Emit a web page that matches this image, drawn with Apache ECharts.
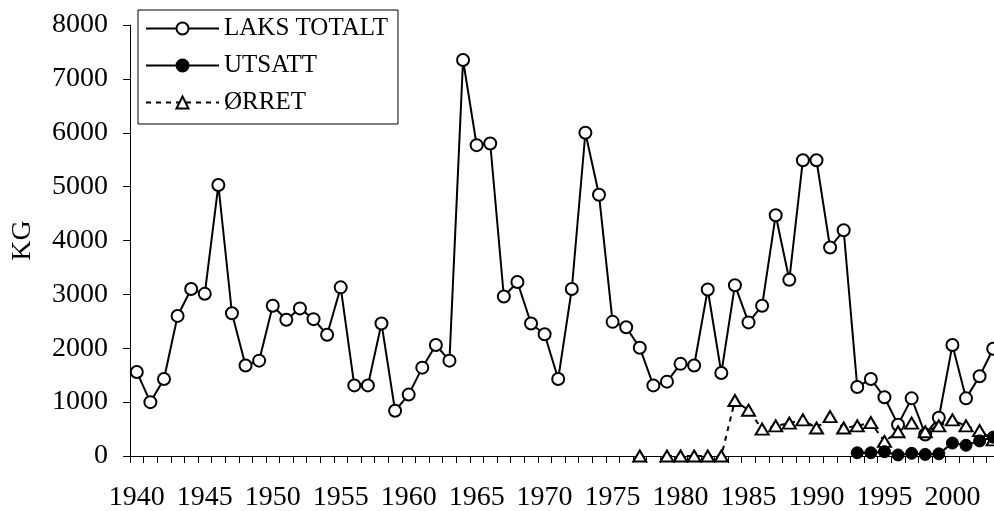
<!DOCTYPE html>
<html>
<head>
<meta charset="utf-8">
<script src="https://cdn.jsdelivr.net/npm/echarts@6/dist/echarts.min.js"></script>
<style>
html,body{margin:0;padding:0;background:#fff;}
#chart{width:994px;height:511px;}
</style>
</head>
<body>
<div id="chart"></div>
<script>
var years = ['1940','1941','1942','1943','1944','1945','1946','1947','1948','1949',
  '1950','1951','1952','1953','1954','1955','1956','1957','1958','1959',
  '1960','1961','1962','1963','1964','1965','1966','1967','1968','1969',
  '1970','1971','1972','1973','1974','1975','1976','1977','1978','1979',
  '1980','1981','1982','1983','1984','1985','1986','1987','1988','1989',
  '1990','1991','1992','1993','1994','1995','1996','1997','1998','1999',
  '2000','2001','2002','2003'];

var laksTotalt = [1560,1000,1430,2600,3100,3010,5030,2650,1680,1770,
  2790,2530,2740,2540,2250,3130,1310,1310,2460,840,
  1140,1640,2060,1770,7350,5770,5800,2960,3230,2460,
  2260,1430,3100,6000,4850,2490,2390,2010,1310,1380,
  1710,1680,3090,1540,3170,2480,2790,4470,3270,5490,
  5490,3870,4190,1280,1430,1090,580,1070,400,710,
  2060,1070,1480,1990];

var utsattStart = '1993';
var utsattValues = [60,60,80,20,50,30,40,240,200,280,350];

var orretStart = '1977';
var orretValues = [0,null,0,0,0,0,0,1030,850,500,560,610,670,520,730,520,560,620,270,450,610,450,560,670,560,470,300];

var yTicks = [0,1000,2000,3000,4000,5000,6000,7000,8000];

function pad(start, vals){
  var out = [];
  var s = years.indexOf(start);
  for (var i = 0; i < years.length; i++) {
    var k = i - s;
    out.push(k >= 0 && k < vals.length ? vals[k] : null);
  }
  return out;
}

var FONT = '"Liberation Serif","Times New Roman",serif';
var chart = echarts.init(document.getElementById('chart'), null, {renderer:'canvas'});
chart.setOption({
  animation: false,
  backgroundColor: '#fff',
  grid: {left: 130, right: -6, top: 25, bottom: 55, containLabel: false, outerBoundsMode: 'none'},
  legend: {
    orient: 'vertical',
    left: 138, top: 10,
    backgroundColor: '#fff',
    borderColor: '#000', borderWidth: 1,
    padding: [6, 10, 9, 7],
    itemWidth: 73, itemHeight: 15, itemGap: 12,
    textStyle: {fontFamily: FONT, fontSize: 25, color: '#000'},
    data: ['LAKS TOTALT', 'UTSATT', 'ØRRET']
  },
  xAxis: {
    type: 'category',
    data: years,
    boundaryGap: true,
    axisLine: {lineStyle: {color: '#000', width: 1}},
    axisTick: {show: true, interval: 0, length: 7, lineStyle: {color: '#000'}},
    axisLabel: {interval: 4, margin: 28, fontFamily: FONT, fontSize: 28, color: '#000'},
    splitLine: {show: false}
  },
  yAxis: {
    type: 'value',
    min: yTicks[0], max: yTicks[yTicks.length-1], interval: 1000,
    name: 'KG', nameLocation: 'middle', nameGap: 93, nameRotate: 90,
    nameTextStyle: {fontFamily: FONT, fontSize: 28, color: '#000'},
    axisLine: {show: true, lineStyle: {color: '#000', width: 1}},
    axisTick: {show: true, length: 7, lineStyle: {color: '#000'}},
    axisLabel: {margin: 22, fontFamily: FONT, fontSize: 28, color: '#000',
      formatter: function(v){ return String(v); }},
    splitLine: {show: false}
  },
  series: [
    {
      name: 'LAKS TOTALT', type: 'line', data: laksTotalt, z: 2,
      symbol: 'circle', symbolSize: 12, showAllSymbol: true,
      lineStyle: {color: '#000', width: 2},
      itemStyle: {color: '#fff', borderColor: '#000', borderWidth: 2},
      emphasis: {disabled: true}
    },
    {
      name: 'UTSATT', type: 'line', data: pad(utsattStart, utsattValues), z: 4,
      symbol: 'circle', symbolSize: 12, showAllSymbol: true,
      lineStyle: {color: '#000', width: 2},
      itemStyle: {color: '#000', borderColor: '#000', borderWidth: 1},
      emphasis: {disabled: true}
    },
    {
      name: 'ØRRET', type: 'line', data: pad(orretStart, orretValues), z: 3,
      symbol: 'triangle', symbolSize: [13, 11], showAllSymbol: true,
      lineStyle: {color: '#000', width: 2, type: [5, 5]},
      itemStyle: {color: '#fff', borderColor: '#000', borderWidth: 2},
      emphasis: {disabled: true}
    }
  ]
});
</script>
</body>
</html>
